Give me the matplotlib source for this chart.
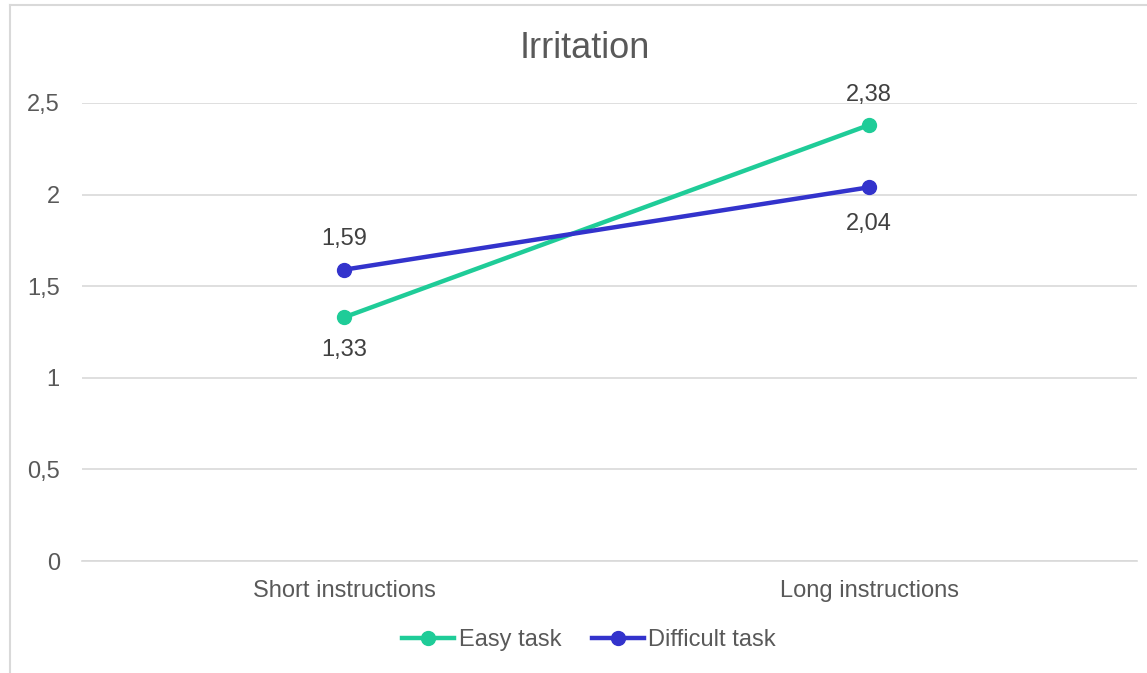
import matplotlib.pyplot as plt
from matplotlib.lines import Line2D

categories = ['Short instructions', 'Long instructions']
easy = [1.33, 2.38]
difficult = [1.59, 2.04]
series_names = ['Easy task', 'Difficult task']
yticks = [0, 0.5, 1, 1.5, 2, 2.5]

green = '#1fcc98'
blue = '#3333cc'
grey = '#595959'
gridc = '#d9d9d9'

plt.rcParams['font.family'] = ['Liberation Sans', 'DejaVu Sans']

def fmt(v):
	s = ('%g' % v)
	return s.replace('.', ',')

fig = plt.figure(figsize=(11.47, 6.73), dpi=100)
ax = fig.add_axes([82 / 1147, 112 / 673, (1137 - 82) / 1147, (561 - 103) / 673])

x = [0, 1]
ax.plot(x, easy, color=green, lw=3.2, marker='o', ms=10, label=series_names[0], zorder=3)
ax.plot(x, difficult, color=blue, lw=3.2, marker='o', ms=10, label=series_names[1], zorder=3)

# data labels: easy below then above, difficult above then below
offs_easy = [-33, 30]
offs_diff = [31, -37]
for i in range(2):
	ax.annotate(fmt(easy[i]), (x[i], easy[i]), xytext=(0, offs_easy[i] * 0.72), textcoords='offset points',
		ha='center', va='center', fontsize=17, color='#404040')
	ax.annotate(fmt(difficult[i]), (x[i], difficult[i]), xytext=(0, offs_diff[i] * 0.72), textcoords='offset points',
		ha='center', va='center', fontsize=17, color='#404040')

ax.set_xlim(-0.499, 1.51)
ax.set_ylim(0, 2.5)
ax.set_xticks(x)
ax.set_xticklabels(categories)
ax.set_yticks(yticks)
ax.set_yticklabels([fmt(v) for v in yticks])
ax.tick_params(axis='both', length=0, labelsize=17, labelcolor=grey)
ax.tick_params(axis='y', pad=16)
ax.tick_params(axis='x', pad=14)
ax.grid(axis='y', color=gridc, lw=1.2)
ax.set_axisbelow(True)
for s in ['top', 'right', 'left']:
	ax.spines[s].set_visible(False)
ax.spines['bottom'].set_color(gridc)
ax.spines['bottom'].set_linewidth(1.2)

fig.text(585 / 1147, 1 - 48 / 673, 'Irritation', ha='center', va='center', fontsize=26, color=grey)

leg = fig.legend(loc='center', bbox_to_anchor=(589 / 1147, 1 - 640 / 673), ncol=2, frameon=False,
	fontsize=17, handlelength=2.2, columnspacing=1.3, handletextpad=0.2, labelcolor=grey)

# chart border (only left and top edges visible)
fig.add_artist(Line2D([10 / 1147, 10 / 1147], [0, 1 - 5 / 673], color=gridc, lw=1.5, transform=fig.transFigure))
fig.add_artist(Line2D([10 / 1147, 1], [1 - 5 / 673, 1 - 5 / 673], color=gridc, lw=1.5, transform=fig.transFigure))

fig.savefig('out.png', dpi=100, facecolor='white')
